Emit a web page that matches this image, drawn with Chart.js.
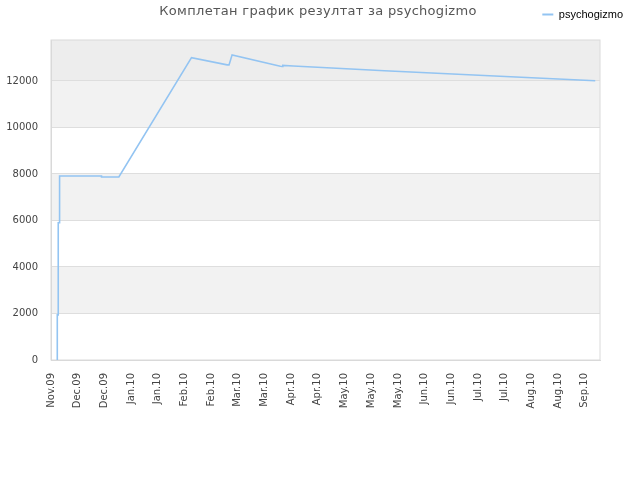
<!DOCTYPE html>
<html>
<head>
<meta charset="utf-8">
<script src="https://cdn.jsdelivr.net/npm/chart.js@4"></script>
<style>
  body { margin: 0; background: #fff; }
</style>
</head>
<body>
<canvas id="scoreChart" width="640" height="480"></canvas>
<script>
// Data (x = days since first tick)
const chartTitle = 'Комплетан график резултат за psychogizmo';
const seriesName = 'psychogizmo';
const xLabels = ['Nov.09', 'Dec.09', 'Dec.09', 'Jan.10', 'Jan.10', 'Feb.10', 'Feb.10', 'Mar.10', 'Mar.10', 'Apr.10', 'Apr.10',
    'May.10', 'May.10', 'May.10', 'Jun.10', 'Jun.10', 'Jul.10', 'Jul.10', 'Aug.10', 'Aug.10', 'Sep.10'];
const tickStepDays = 14;
const yTicks = [0, 2000, 4000, 6000, 8000, 10000, 12000];
const days = [3.3, 3.3, 3.8, 3.8, 4.5, 4.5, 26.5, 26.5, 35.6, 73.7, 92.4, 93.4, 95.0,
    120.3, 121.4, 121.6, 127.1, 175, 230, 285.5];
const scores = [0, 1940, 1940, 5900, 5900, 7910, 7910, 7870, 7870, 13000, 12690, 12690, 13120,
    12630, 12620, 12670, 12640, 12440, 12220, 12010];

// Alternating background bands behind the plot
const bandPlugin = {
    id: 'bands',
    beforeDraw(chart) {
        const { ctx, chartArea: a, scales: { y } } = chart;
        const colors = ['#ffffff', '#f2f2f2', '#ffffff', '#f2f2f2', '#ffffff', '#f2f2f2', '#ededed'];
        ctx.save();
        colors.forEach((c, i) => {
            const top = i === colors.length - 1 ? a.top : y.getPixelForValue((i + 1) * 2000);
            const bottom = y.getPixelForValue(i * 2000);
            ctx.fillStyle = c;
            ctx.fillRect(a.left, top, a.right - a.left, bottom - top);
        });
        ctx.restore();
    },
    beforeDatasetsDraw(chart) {
        const { ctx, chartArea: a } = chart;
        ctx.save();
        ctx.strokeStyle = '#dadada';
        ctx.lineWidth = 1;
        ctx.strokeRect(a.left, a.top, a.right - a.left, a.bottom - a.top);
        ctx.restore();
    },
    afterDraw(chart) {
        // title shares the row with the legend, so draw it by hand
        const ctx = chart.ctx;
        ctx.save();
        ctx.font = '13px "DejaVu Sans"';
        ctx.letterSpacing = '0.3px';
        ctx.fillStyle = '#555555';
        ctx.textAlign = 'center';
        ctx.textBaseline = 'middle';
        ctx.fillText(chartTitle, 318, 12);
        ctx.restore();
    }
};

const scoreChart = new Chart(document.getElementById('scoreChart'), {
    type: 'line',
    data: {
        datasets: [{
            label: seriesName,
            data: days.map((d, i) => ({ x: d, y: scores[i] })),
            borderColor: '#93c4f2',
            backgroundColor: '#93c4f2',
            borderWidth: 1.6,
            pointRadius: 0,
            tension: 0
        }]
    },
    options: {
        responsive: false,
        animation: false,
        layout: { padding: { top: 0, left: 0, right: 8, bottom: 0 } },
        plugins: {
            legend: {
                position: 'top',
                align: 'end',
                labels: {
                    boxWidth: 11,
                    boxHeight: 2,
                    padding: 9,
                    color: '#000',
                    font: { family: '"Liberation Sans"', size: 11 },
                    generateLabels: chart => Chart.defaults.plugins.legend.labels.generateLabels(chart)
                        .map(item => ({ ...item, lineWidth: 0 }))
                }
            },
            tooltip: { enabled: false }
        },
        scales: {
            x: {
                type: 'linear',
                min: 0,
                max: 288,
                afterBuildTicks: scale => {
                    scale.ticks = xLabels.map((l, i) => ({ value: i * tickStepDays }));
                },
                afterFit: scale => { scale.height = 120; },
                grid: { display: false, drawTicks: false },
                border: { color: '#d8d8d8' },
                ticks: {
                    autoSkip: false,
                    minRotation: 90,
                    maxRotation: 90,
                    padding: 13,
                    color: '#444',
                    font: { family: '"DejaVu Sans"', size: 10 },
                    callback: (v, i) => xLabels[i]
                }
            },
            // empty spacer between legend row and plot top
            xTop: {
                axis: 'x',
                type: 'linear',
                position: 'top',
                afterFit: scale => { scale.height = 10; },
                grid: { display: false, drawTicks: false },
                border: { display: false },
                ticks: { display: false }
            },
            y: {
                min: 0,
                max: 13760,
                afterBuildTicks: scale => {
                    scale.ticks = yTicks.map(v => ({ value: v }));
                },
                afterFit: scale => { scale.width = 51; },
                grid: { color: '#dedede', drawTicks: false },
                border: { color: '#d8d8d8' },
                ticks: {
                    padding: 13,
                    color: '#444',
                    font: { family: '"DejaVu Sans"', size: 10 },
                    callback: v => String(v)
                }
            },
            yRight: {
                position: 'right',
                afterFit: scale => { scale.width = 32; },
                grid: { display: false, drawTicks: false },
                border: { display: false },
                ticks: { display: false }
            }
        }
    },
    plugins: [bandPlugin]
});
</script>
</body>
</html>
